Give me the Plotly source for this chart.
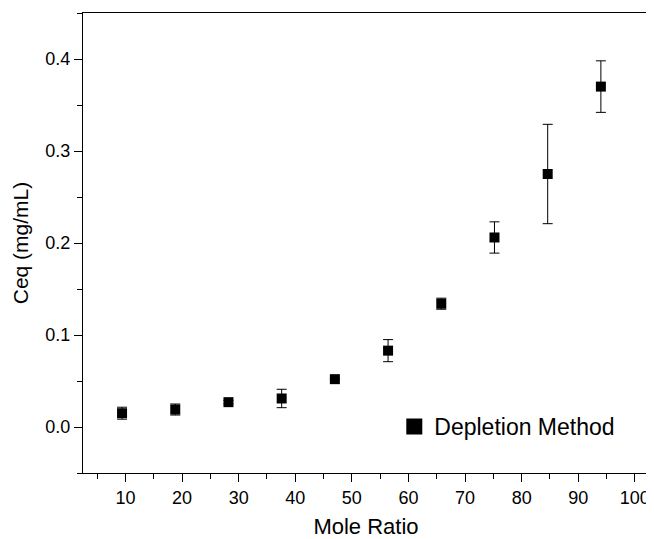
import plotly.graph_objects as go

# mole ratio vs equilibrium concentration (depletion method)
mole_ratio = [9.4, 18.8, 28.2, 37.6, 47.0, 56.4, 65.8, 75.2, 84.6, 94.0]
ceq = [0.015, 0.019, 0.027, 0.031, 0.052, 0.083, 0.134, 0.206, 0.275, 0.370]
ceq_err = [0.0065, 0.006, 0.002, 0.010, 0.001, 0.012, 0.006, 0.017, 0.054, 0.028]

series_name = "Depletion Method"
x_ticks = [10, 20, 30, 40, 50, 60, 70, 80, 90, 100]
y_ticks = [0.0, 0.1, 0.2, 0.3, 0.4]

font = "Arial, Liberation Sans, sans-serif"

fig = go.Figure()
fig.add_trace(go.Scatter(
    x=mole_ratio, y=ceq, mode="markers",
    marker=dict(symbol="square", size=10, color="black"),
    error_y=dict(type="data", array=ceq_err, visible=True,
                 color="black", thickness=1, width=5),
    showlegend=False,
))
# legend entry only (bigger square, like the original)
fig.add_trace(go.Scatter(
    x=[None], y=[None], mode="markers", name=series_name,
    marker=dict(symbol="square", size=16, color="black"),
))

axis_common = dict(
    showgrid=False, zeroline=False, showline=True, linecolor="black",
    linewidth=1.3, mirror=True, ticks="outside", ticklen=8, tickwidth=1.3,
    tickcolor="black", tickfont=dict(size=18, color="black", family=font),
)

fig.update_xaxes(
    range=[2.5, 102.5], tickvals=x_ticks,
    title=dict(text="Mole Ratio", font=dict(size=22, color="black", family=font),
               standoff=12),
    minor=dict(dtick=5, tick0=0, ticks="outside", ticklen=5,
               tickwidth=1.3, tickcolor="black"),
    **axis_common,
)
fig.update_yaxes(
    range=[-0.05, 0.45], tickvals=y_ticks, tickformat=".1f",
    title=dict(text="Ceq (mg/mL)", font=dict(size=21, color="black", family=font),
               standoff=10),
    minor=dict(dtick=0.05, tick0=0, ticks="outside", ticklen=5,
               tickwidth=1.3, tickcolor="black"),
    **axis_common,
)

# page body adds 8px margin, so the figure is a bit smaller than the window
fig.update_layout(
    width=646, height=531,
    margin=dict(l=75, r=4, t=5, b=63),
    plot_bgcolor="white", paper_bgcolor="white",
    font=dict(family=font, color="black"),
    legend=dict(x=0.55, y=0.101, xanchor="left", yanchor="middle",
                bgcolor="rgba(0,0,0,0)", font=dict(size=23, family=font)),
)

fig.write_html("out.html")
